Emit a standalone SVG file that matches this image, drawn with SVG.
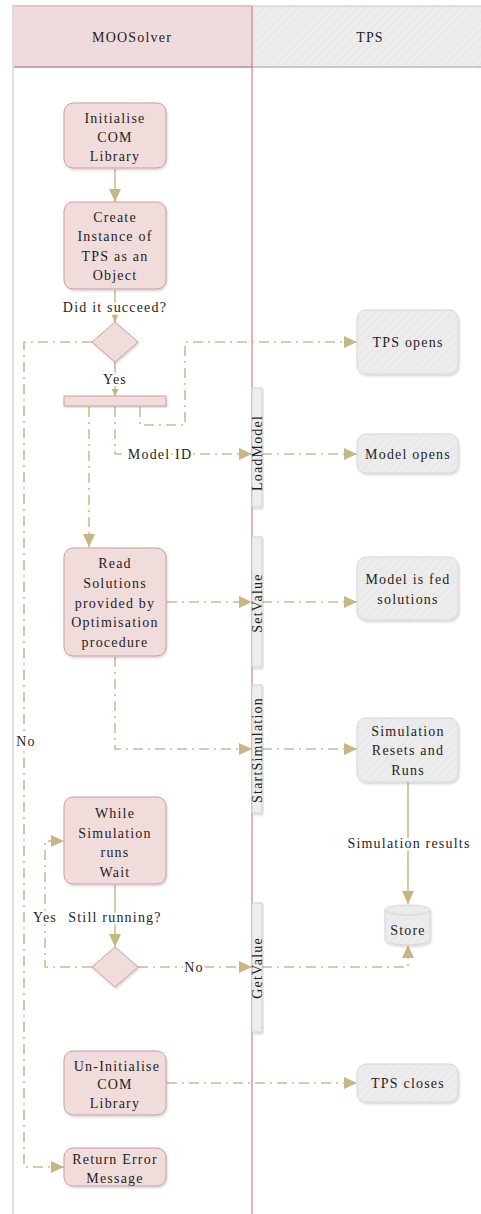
<svg xmlns="http://www.w3.org/2000/svg" width="481" height="1214" viewBox="0 0 481 1214">
  <defs>
    <style>
      text { font-family: "Liberation Serif", "Tinos", "Times New Roman", Times, "DejaVu Serif", "Noto Serif", serif; font-size: 14px; letter-spacing: 1.2px; fill: #1e1e1e; text-anchor: middle; dominant-baseline: central; }
      .act { fill: #f1dcdc; stroke: #cf9c9c; stroke-width: 1; filter: url(#shadow); }
      .tps { fill: url(#hatchGray); stroke: #d6d6d6; stroke-width: 1; filter: url(#shadow); }
      .bar { fill: #ededed; stroke: #d2d2d2; stroke-width: 1; filter: url(#shadow); }
      .flow { fill: none; stroke: #cbbd8f; stroke-width: 1.6; }
      .msg { fill: none; stroke: #cbbd8f; stroke-width: 1.6; stroke-dasharray: 10 5 2 5; }
      .lbl { paint-order: stroke; stroke: #fff; stroke-width: 5px; stroke-linejoin: round; }
    </style>
    <pattern id="hatchGray" width="6" height="6" patternUnits="userSpaceOnUse" patternTransform="rotate(45)">
      <rect width="6" height="6" fill="#ececec"/>
      <line x1="0" y1="0" x2="0" y2="6" stroke="#e3e3e3" stroke-width="1.5"/>
    </pattern>
    <filter id="shadow" x="-20%" y="-20%" width="140%" height="140%">
      <feDropShadow dx="1" dy="1.5" stdDeviation="1.2" flood-color="#000" flood-opacity="0.18"/>
    </filter>
    <marker id="arrow" markerUnits="userSpaceOnUse" markerWidth="13" markerHeight="12" refX="13" refY="6" orient="auto">
      <path d="M0,0 L13,6 L0,12 Z" fill="#c6b684"/>
    </marker>
    <marker id="arrowSm" markerUnits="userSpaceOnUse" markerWidth="7" markerHeight="7" refX="7" refY="3.5" orient="auto">
      <path d="M0,0 L7,3.5 L0,7 Z" fill="#c6b684"/>
    </marker>
  </defs>

  <rect width="481" height="1214" fill="#fff"/>

  <!-- swimlanes -->
  <g id="lanes">
    <rect x="12" y="6" width="240" height="61" fill="#efdbdb"/>
    <rect x="252" y="6" width="229" height="61" fill="url(#hatchGray)"/>
    <line x1="12" y1="6" x2="252" y2="6" stroke="#dcb6b6" stroke-width="1.5"/>
    <line x1="252" y1="6" x2="481" y2="6" stroke="#d8d8d8" stroke-width="1.5"/>
    <line x1="12" y1="67" x2="252" y2="67" stroke="#c9a2a2" stroke-width="2"/>
    <line x1="252" y1="67" x2="481" y2="67" stroke="#c9c9c9" stroke-width="2"/>
    <line x1="13" y1="6" x2="13" y2="1214" stroke="#dedede" stroke-width="2"/>
    <line x1="252" y1="6" x2="252" y2="1214" stroke="#c98484" stroke-width="1.2"/>
    <text x="132" y="37" font-family="Liberation Serif">MOOSolver</text>
    <text x="370" y="37" font-family="Liberation Serif">TPS</text>
  </g>

  <!-- connectors -->
  <g id="connectors">
    <path class="flow" d="M115,169 V202" marker-end="url(#arrow)"/>
    <path class="flow" d="M115,290 V322" marker-end="url(#arrowSm)"/>
    <path class="flow" d="M115,362 V396" marker-end="url(#arrowSm)"/>
    <path class="flow" d="M408,782 V904" marker-end="url(#arrow)"/>
    <path class="flow" d="M115,885 V947" marker-end="url(#arrow)"/>

    <path class="msg" d="M92,342 H24 V1167 H64" marker-end="url(#arrow)"/>
    <path class="msg" d="M140,407 V425 H185 V342 H357" marker-end="url(#arrow)"/>
    <path class="msg" d="M115,407 V454 H252" marker-end="url(#arrow)"/>
    <path class="msg" d="M262,454 H357" marker-end="url(#arrow)"/>
    <path class="msg" d="M89,407 V547" marker-end="url(#arrow)"/>
    <path class="msg" d="M167,602 H252" marker-end="url(#arrow)"/>
    <path class="msg" d="M262,602 H357" marker-end="url(#arrow)"/>
    <path class="msg" d="M115,657 V749 H252" marker-end="url(#arrow)"/>
    <path class="msg" d="M262,749 H357" marker-end="url(#arrow)"/>
    <path class="msg" d="M92,967 H45 V841 H64" marker-end="url(#arrow)"/>
    <path class="msg" d="M138,967 H252" marker-end="url(#arrow)"/>
    <path class="msg" d="M262,967 H408 V945" marker-end="url(#arrow)"/>
    <path class="msg" d="M167,1083 H357" marker-end="url(#arrow)"/>

    <text class="lbl" x="115" y="307">Did it succeed?</text>
    <text class="lbl" x="115" y="379">Yes</text>
    <text class="lbl" x="160" y="454">Model ID</text>
    <text class="lbl" x="26" y="741">No</text>
    <text class="lbl" x="409" y="843">Simulation results</text>
    <text class="lbl" x="115" y="917">Still running?</text>
    <text class="lbl" x="45" y="917">Yes</text>
    <text class="lbl" x="194" y="967">No</text>
  </g>

  <!-- MOOSolver lane -->
  <g id="initialise">
    <rect class="act" x="64" y="103" width="102" height="65" rx="9"/>
    <text x="115" y="118">Initialise</text>
    <text x="115" y="137">COM</text>
    <text x="115" y="156">Library</text>
  </g>
  <g id="create-instance">
    <rect class="act" x="64" y="202" width="102" height="87" rx="9"/>
    <text x="115" y="217">Create</text>
    <text x="115" y="236">Instance of</text>
    <text x="115" y="256">TPS as an</text>
    <text x="115" y="275">Object</text>
  </g>
  <g id="decision-success">
    <path class="act" d="M115,322 L138,342 L115,362 L92,342 Z"/>
  </g>
  <g id="fork">
    <rect class="act" x="64" y="396" width="102" height="10"/>
  </g>
  <g id="read-solutions">
    <rect class="act" x="64" y="548" width="102" height="108" rx="9"/>
    <text x="115" y="563">Read</text>
    <text x="115" y="583">Solutions</text>
    <text x="115" y="603">provided by</text>
    <text x="115" y="622">Optimisation</text>
    <text x="115" y="642">procedure</text>
  </g>
  <g id="wait">
    <rect class="act" x="64" y="797" width="102" height="87" rx="9"/>
    <text x="115" y="813">While</text>
    <text x="115" y="833">Simulation</text>
    <text x="115" y="852">runs</text>
    <text x="115" y="872">Wait</text>
  </g>
  <g id="decision-running">
    <path class="act" d="M115,947 L138,967 L115,987 L92,967 Z"/>
  </g>
  <g id="uninitialise">
    <rect class="act" x="64" y="1051" width="102" height="64" rx="9"/>
    <text x="117" y="1066">Un-Initialise</text>
    <text x="115" y="1084">COM</text>
    <text x="115" y="1103">Library</text>
  </g>
  <g id="return-error">
    <rect class="act" x="64" y="1148" width="102" height="38" rx="9"/>
    <text x="115" y="1159">Return Error</text>
    <text x="115" y="1178">Message</text>
  </g>

  <!-- interface calls on the lane boundary -->
  <g id="load-model">
    <rect class="bar" x="252" y="388" width="10" height="119"/>
    <text transform="translate(257,453) rotate(-90)">LoadModel</text>
  </g>
  <g id="set-value">
    <rect class="bar" x="252" y="537" width="10" height="130"/>
    <text transform="translate(257,603) rotate(-90)">SetValue</text>
  </g>
  <g id="start-simulation">
    <rect class="bar" x="252" y="685" width="10" height="128"/>
    <text transform="translate(257,750) rotate(-90)">StartSimulation</text>
  </g>
  <g id="get-value">
    <rect class="bar" x="252" y="903" width="10" height="129"/>
    <text transform="translate(257,968) rotate(-90)">GetValue</text>
  </g>

  <!-- TPS lane -->
  <g id="tps-opens">
    <rect class="tps" x="357" y="310" width="101" height="64" rx="9"/>
    <text x="408" y="342">TPS opens</text>
  </g>
  <g id="model-opens">
    <rect class="tps" x="357" y="434" width="101" height="39" rx="9"/>
    <text x="408" y="454">Model opens</text>
  </g>
  <g id="model-fed">
    <rect class="tps" x="357" y="557" width="101" height="63" rx="9"/>
    <text x="408" y="579">Model is fed</text>
    <text x="408" y="599">solutions</text>
  </g>
  <g id="simulation-runs">
    <rect class="tps" x="357" y="718" width="101" height="64" rx="9"/>
    <text x="408" y="731">Simulation</text>
    <text x="408" y="750">Resets and</text>
    <text x="408" y="770">Runs</text>
  </g>
  <g id="store">
    <path class="tps" d="M385,910 A22.5,5 0 0 1 430,910 V940 A22.5,5 0 0 1 385,940 Z"/>
    <path d="M385,910 A22.5,5 0 0 0 430,910" fill="none" stroke="#d6d6d6" stroke-width="1"/>
    <text x="408" y="930">Store</text>
  </g>
  <g id="tps-closes">
    <rect class="tps" x="357" y="1064" width="101" height="38" rx="9"/>
    <text x="408" y="1083">TPS closes</text>
  </g>
</svg>
